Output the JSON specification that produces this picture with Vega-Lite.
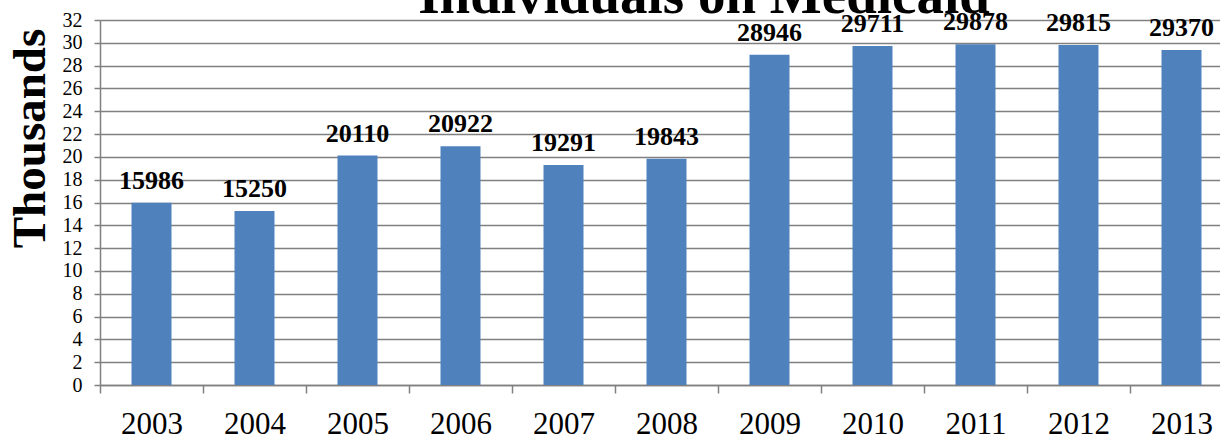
{
  "$schema": "https://vega.github.io/schema/vega-lite/v6.json",
  "width": 1120,
  "height": 365,
  "autosize": {"type": "none"},
  "padding": {"left": 100, "top": 20, "right": 0, "bottom": 51},
  "background": "white",
  "title": {
    "text": "Individuals on Medicaid",
    "font": "Liberation Serif",
    "fontSize": 55,
    "fontWeight": "bold",
    "color": "black",
    "anchor": "middle",
    "dx": 44,
    "offset": -59,
    "baseline": "alphabetic"
  },
  "config": {"view": {"stroke": null}},
  "data": {
    "values": [
      {"year": "2003", "value": 15986},
      {"year": "2004", "value": 15250},
      {"year": "2005", "value": 20110},
      {"year": "2006", "value": 20922},
      {"year": "2007", "value": 19291},
      {"year": "2008", "value": 19843},
      {"year": "2009", "value": 28946},
      {"year": "2010", "value": 29711},
      {"year": "2011", "value": 29878},
      {"year": "2012", "value": 29815},
      {"year": "2013", "value": 29370}
    ]
  },
  "encoding": {
    "x": {
      "field": "year",
      "type": "ordinal",
      "scale": {"paddingInner": 0, "paddingOuter": 0, "range": [0, 1133]},
      "axis": {
        "title": null,
        "labelAngle": 0,
        "tickBand": "extent",
        "labelFont": "Liberation Serif",
        "labelFontSize": 31,
        "labelColor": "black",
        "labelBaseline": "alphabetic",
        "labelPadding": 40,
        "tickSize": 8,
        "tickColor": "#808080",
        "tickWidth": 1.5,
        "domainColor": "#808080",
        "domainWidth": 1.5,
        "grid": false
      }
    },
    "y": {
      "field": "value",
      "type": "quantitative",
      "scale": {"domain": [0, 32000], "nice": false},
      "axis": {
        "title": "Thousands",
        "titleFont": "Liberation Serif",
        "titleFontSize": 47,
        "titleFontWeight": "bold",
        "titleColor": "black",
        "titleAngle": -90,
        "titleX": -56,
        "titleY": 118,
        "titleAlign": "center",
        "titleBaseline": "alphabetic",
        "values": [0, 2000, 4000, 6000, 8000, 10000, 12000, 14000, 16000, 18000, 20000, 22000, 24000, 26000, 28000, 30000, 32000],
        "labelExpr": "datum.value / 1000",
        "labelFont": "Liberation Serif",
        "labelFontSize": 20,
        "labelColor": "black",
        "labelPadding": 12,
        "tickSize": 6,
        "tickColor": "#808080",
        "tickWidth": 1.5,
        "domainColor": "#808080",
        "domainWidth": 1.5,
        "grid": true,
        "gridColor": "#808080",
        "gridWidth": 1.5,
        "gridOpacity": 1
      }
    }
  },
  "layer": [
    {"mark": {"type": "bar", "color": "#4F81BD", "width": 40}},
    {
      "mark": {
        "type": "text",
        "font": "Liberation Serif",
        "fontSize": 26,
        "fontWeight": "bold",
        "color": "black",
        "baseline": "alphabetic",
        "dy": -14
      },
      "encoding": {"text": {"field": "value", "type": "quantitative", "format": "d"}}
    }
  ]
}
